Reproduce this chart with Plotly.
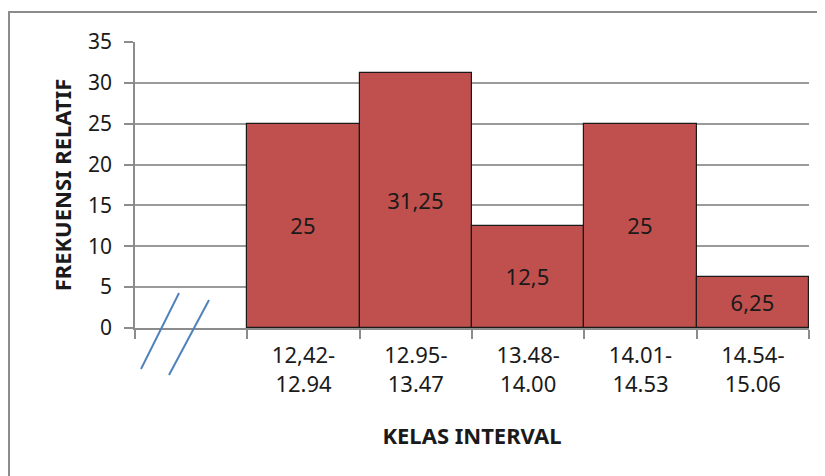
import plotly.graph_objects as go

categories = [" ", "12,42-<br>12.94", "12.95-<br>13.47", "13.48-<br>14.00", "14.01-<br>14.53", "14.54-<br>15.06"]
values = [None, 25, 31.25, 12.5, 25, 6.25]
value_labels = ["", "25", "31,25", "12,5", "25", "6,25"]
y_ticks = [0, 5, 10, 15, 20, 25, 30, 35]

OFF = 8  # page body margin
W, H = 825 - OFF, 476 - OFF
L, R, T, B = 135, 809, 42, 328

def px(x):
    return (x - L) / (R - L)

def py(y):
    return (B - y) / (B - T)

FONT = "Noto Sans"
TXT = "#1a1a1a"

fig = go.Figure()
fig.add_trace(go.Bar(
    x=categories, y=values, text=value_labels,
    textposition="inside", insidetextanchor="middle",
    textfont=dict(size=22, color=TXT, family=FONT),
    marker=dict(color="#C0504D", line=dict(color="#1a1a1a", width=1.2)),
    hoverinfo="skip",
))

shapes = [
    dict(type="rect", xref="paper", yref="paper",
         x0=px(9), x1=px(840), y0=py(12), y1=py(490),
         line=dict(color="#8c8c8c", width=2), fillcolor="rgba(0,0,0,0)", layer="below"),
    dict(type="line", xref="paper", yref="paper",
         x0=px(141), y0=py(369), x1=px(179), y1=py(293),
         line=dict(color="#4F81BD", width=2)),
    dict(type="line", xref="paper", yref="paper",
         x0=px(169), y0=py(375), x1=px(209), y1=py(300),
         line=dict(color="#4F81BD", width=2)),
]

fig.update_layout(
    width=W, height=H,
    margin=dict(l=L - OFF, r=825 - R, t=T - OFF, b=476 - B, pad=0),
    paper_bgcolor="white", plot_bgcolor="white",
    bargap=0, showlegend=False,
    font=dict(family=FONT, color=TXT),
    shapes=shapes,
    xaxis=dict(
        type="category", tickson="boundaries",
        showline=True, linecolor="#8c8c8c", linewidth=1.5,
        ticks="outside", ticklen=9, tickcolor="#8c8c8c", tickwidth=1.5,
        ticklabelstandoff=7,
        showgrid=False, tickfont=dict(size=22, color=TXT),
        title=dict(text="<b>KELAS INTERVAL</b>", font=dict(size=22, color=TXT), standoff=32),
        fixedrange=True,
    ),
    yaxis=dict(
        range=[0, 35], tickvals=y_ticks,
        showline=True, linecolor="#8c8c8c", linewidth=1.5,
        ticks="outside", ticklen=9, tickcolor="#8c8c8c", tickwidth=1.5,
        ticklabelstandoff=8,
        showgrid=True, gridcolor="#9a9a9a", gridwidth=1.5,
        zeroline=False, tickfont=dict(size=21, color=TXT),
        title=dict(text="<b>FREKUENSI RELATIF</b>", font=dict(size=22, color=TXT), standoff=10),
        fixedrange=True,
    ),
)

fig.write_html("out.html")
